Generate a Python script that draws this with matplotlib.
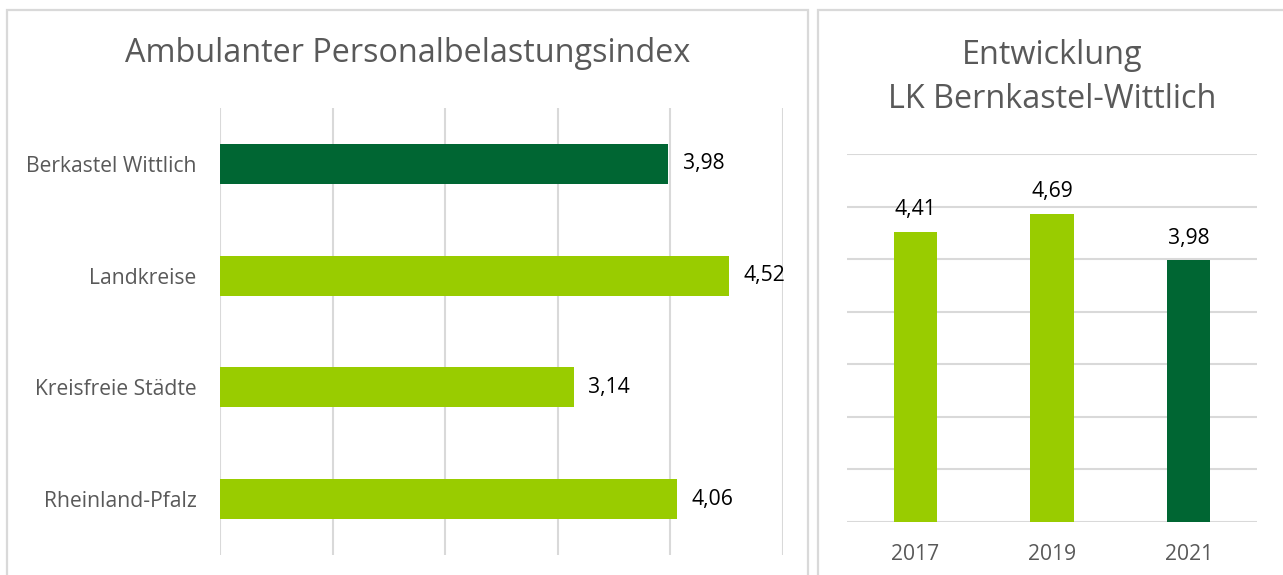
import matplotlib
matplotlib.use("Agg")
import matplotlib.pyplot as plt
from matplotlib.patches import Rectangle

# Data
categories = ["Berkastel Wittlich", "Landkreise", "Kreisfreie Städte", "Rheinland-Pfalz"]
values = [3.98, 4.52, 3.14, 4.06]
years = ["2017", "2019", "2021"]
year_values = [4.41, 4.69, 3.98]

DARK = "#006633"
LIGHT = "#99CC00"
GRID = "#d9d9d9"
TXT = "#595959"

plt.rcParams['font.family'] = ['Open Sans', 'DejaVu Sans']

W, H = 1283, 575
fig = plt.figure(figsize=(W / 100, H / 100), dpi=100)

def fx(px):
    return px / W

def fy(py):
    return 1 - py / H

LBL = 15.2
TTL = 23.3

# panel borders
fig.add_artist(Rectangle((fx(7), -0.05), fx(808) - fx(7), fy(10) + 0.05,
                         transform=fig.transFigure, fill=False, edgecolor=GRID, lw=1.6))
fig.add_artist(Rectangle((fx(818), -0.05), fx(1300) - fx(818), fy(10) + 0.05,
                         transform=fig.transFigure, fill=False, edgecolor=GRID, lw=1.6))

# Left chart
ax1 = fig.add_axes([fx(220), fy(555), fx(783) - fx(220), fy(108) - fy(555)])
colors1 = [DARK] + [LIGHT] * (len(categories) - 1)
ypos = list(range(len(categories)))
ax1.barh(ypos, values, height=0.36, color=colors1, zorder=3)
ax1.set_xlim(0, 5)
ax1.set_ylim(len(categories) - 0.5, -0.5)
ax1.set_xticks([0, 1, 2, 3, 4, 5])
ax1.grid(axis='x', color=GRID, lw=1.5, zorder=0)
ax1.tick_params(axis='x', length=0, labelbottom=False)
ax1.tick_params(axis='y', length=0, pad=17, labelsize=LBL, labelcolor=TXT)
ax1.set_yticks(ypos)
ax1.set_yticklabels(categories)
for s in ax1.spines.values():
    s.set_visible(False)
for y, v in zip(ypos, values):
    ax1.annotate(f"{v:.2f}".replace('.', ','), (v, y), xytext=(10.5, 0),
                 textcoords='offset points', va='center', ha='left',
                 fontsize=LBL, color='black')
fig.text(fx(408), fy(53), "Ambulanter Personalbelastungsindex", ha='center', va='center',
         fontsize=TTL, color=TXT)

# Right chart
ax2 = fig.add_axes([fx(847), fy(522), fx(1257) - fx(847), fy(154) - fy(522)])
colors2 = [LIGHT] * (len(years) - 1) + [DARK]
xpos = list(range(len(years)))
ax2.bar(xpos, year_values, width=0.315, color=colors2, zorder=3)
ax2.set_xlim(-0.5, len(years) - 0.5)
ax2.set_ylim(0, 5.6)
ax2.set_yticks([0, 0.8, 1.6, 2.4, 3.2, 4.0, 4.8, 5.6])
ax2.grid(axis='y', color=GRID, lw=1.5, zorder=0)
ax2.tick_params(axis='y', length=0, labelleft=False)
ax2.tick_params(axis='x', length=0, pad=16, labelsize=LBL, labelcolor=TXT)
ax2.set_xticks(xpos)
ax2.set_xticklabels(years)
for s in ax2.spines.values():
    s.set_visible(False)
for x, v in zip(xpos, year_values):
    ax2.annotate(f"{v:.2f}".replace('.', ','), (x, v), xytext=(0, 8.5),
                 textcoords='offset points', va='bottom', ha='center',
                 fontsize=LBL, color='black')
fig.text(fx(1052), fy(55), "Entwicklung", ha='center', va='center', fontsize=TTL, color=TXT)
fig.text(fx(1052), fy(100), "LK Bernkastel-Wittlich", ha='center', va='center', fontsize=TTL, color=TXT)

fig.savefig("out.png", dpi=100)
